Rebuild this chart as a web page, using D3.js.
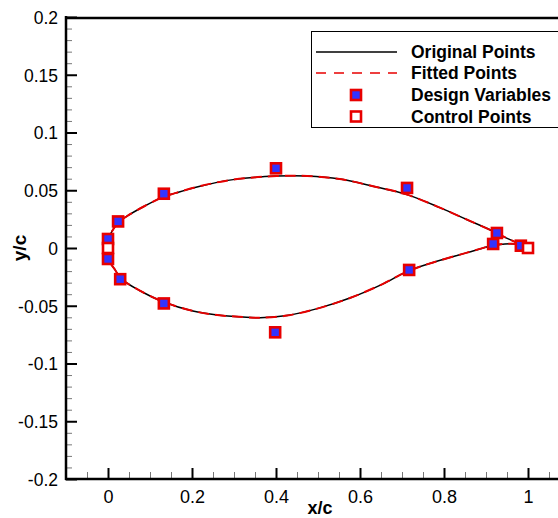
<!DOCTYPE html>
<html>
<head>
<meta charset="utf-8">
<script src="https://cdn.jsdelivr.net/npm/d3@7"></script>
<style>
  html, body { margin: 0; padding: 0; background: #fff; }
  svg { display: block; }
  text { font-family: "Liberation Sans", Arial, Helvetica, sans-serif; }
</style>
</head>
<body>
<svg id="chart" width="558" height="518"></svg>
<script>
// ---------------- data ----------------
const xTickValues = [0, 0.2, 0.4, 0.6, 0.8, 1];
const xTickLabels = ["0", "0.2", "0.4", "0.6", "0.8", "1"];
const yTickValues = [-0.2, -0.15, -0.1, -0.05, 0, 0.05, 0.1, 0.15, 0.2];
const yTickLabels = ["-0.2", "-0.15", "-0.1", "-0.05", "0", "0.05", "0.1", "0.15", "0.2"];

// Original points (upper and lower surface)
const originalUpperX = [0, 0.001, 0.006, 0.013, 0.024, 0.045, 0.083, 0.133, 0.160, 0.219, 0.298, 0.402, 0.474, 0.552, 0.631, 0.712, 0.790, 0.855, 0.917, 0.940, 0.965, 0.983];
const originalUpperY = [0, 0.007, 0.012, 0.0165, 0.022, 0.0275, 0.0355, 0.0445, 0.0475, 0.0535, 0.0592, 0.0623, 0.0623, 0.0597, 0.0535, 0.0462, 0.0350, 0.0245, 0.0145, 0.0100, 0.0060, 0.0030];
const originalLowerX = [0, 0.001, 0.006, 0.017, 0.031, 0.076, 0.131, 0.202, 0.260, 0.321, 0.362, 0.426, 0.498, 0.576, 0.655, 0.714, 0.774, 0.855, 0.914, 0.945, 0.975];
const originalLowerY = [0, -0.007, -0.013, -0.019, -0.0265, -0.037, -0.0465, -0.0545, -0.0580, -0.0598, -0.0604, -0.0585, -0.0525, -0.0433, -0.0310, -0.0200, -0.0125, -0.0040, 0.0020, 0.0035, 0.0035];

// Fitted points
const fittedUpperX = [0, 0.001, 0.006, 0.013, 0.024, 0.045, 0.083, 0.133, 0.160, 0.219, 0.298, 0.402, 0.474, 0.552, 0.631, 0.712, 0.790, 0.855, 0.917, 0.950, 0.983, 1.0];
const fittedUpperY = [0, 0.007, 0.012, 0.0165, 0.022, 0.0275, 0.0355, 0.0445, 0.0475, 0.0535, 0.0592, 0.0623, 0.0623, 0.0597, 0.0535, 0.0462, 0.0350, 0.0245, 0.0145, 0.0085, 0.0030, 0];
const fittedLowerX = [0, 0.001, 0.006, 0.017, 0.031, 0.076, 0.131, 0.202, 0.260, 0.321, 0.362, 0.426, 0.498, 0.576, 0.655, 0.714, 0.774, 0.855, 0.914, 0.945, 0.983, 1.0];
const fittedLowerY = [0, -0.007, -0.013, -0.019, -0.0265, -0.037, -0.0465, -0.0545, -0.0580, -0.0598, -0.0604, -0.0585, -0.0525, -0.0433, -0.0310, -0.0200, -0.0125, -0.0040, 0.0020, 0.0035, 0.0030, 0];

// Design variables
const designX = [0, 0.024, 0.133, 0.400, 0.712, 0.926, 0.983, 0, 0.029, 0.133, 0.398, 0.717, 0.917];
const designY = [0.0078, 0.023, 0.047, 0.069, 0.052, 0.013, 0.002, -0.0095, -0.027, -0.048, -0.073, -0.019, 0.0035];

// Control points
const controlX = [0, 1];
const controlY = [0, 0];

// Legend
const legendLabels = ["Original Points", "Fitted Points", "Design Variables", "Control Points"];

// ---------------- layout ----------------
const svg = d3.select("#chart");
const W = 558, H = 518;
const mLeft = 66, mRight = 570, mTop = 17, mBottom = 479;
const RED = "#e80000", BLUE = "#3333ff";

const x = d3.scaleLinear().domain([-0.1, 1.1]).range([mLeft, mRight]);
const y = d3.scaleLinear().domain([-0.2, 0.2]).range([mBottom, mTop]);

svg.append("rect").attr("width", W).attr("height", H).attr("fill", "#fff");

// minor ticks
const yMinor = d3.range(-20, 21).filter(i => i % 5 !== 0).map(i => i / 100);
const xMinor = d3.range(-2, 23).filter(i => i % 4 !== 0).map(i => i / 20);

const gyMinor = svg.append("g").attr("transform", `translate(${mLeft},0)`)
  .call(d3.axisLeft(y).tickValues(yMinor).tickSize(-6).tickFormat(""));
const gxMinor = svg.append("g").attr("transform", `translate(0,${mBottom})`)
  .call(d3.axisBottom(x).tickValues(xMinor).tickSize(-7).tickFormat(""));
[gyMinor, gxMinor].forEach(g => {
  g.select(".domain").remove();
  g.selectAll("line").attr("stroke", "#777").attr("stroke-width", 1);
});

// major axes
const gy = svg.append("g").attr("transform", `translate(${mLeft},0)`)
  .call(d3.axisLeft(y).tickValues(yTickValues).tickSize(-11).tickPadding(8)
        .tickFormat((d, i) => yTickLabels[i]));
const gx = svg.append("g").attr("transform", `translate(0,${mBottom})`)
  .call(d3.axisBottom(x).tickValues(xTickValues).tickSize(-11).tickPadding(8)
        .tickFormat((d, i) => xTickLabels[i]));
[gy, gx].forEach(g => {
  g.select(".domain").remove();
  g.selectAll("line").attr("stroke", "#000").attr("stroke-width", 2);
  g.selectAll("text").attr("fill", "#000").attr("font-family", "Liberation Sans, Arial, sans-serif");
});
gy.selectAll("text").attr("font-size", 17.5).attr("dy", "0.36em");
gx.selectAll("text").attr("font-size", 18).attr("dy", "0.9em");

// frame lines
svg.append("line").attr("x1", mLeft).attr("x2", mLeft).attr("y1", mTop - 1).attr("y2", mBottom + 1)
  .attr("stroke", "#000").attr("stroke-width", 2.5);
svg.append("line").attr("x1", mLeft - 1).attr("x2", W).attr("y1", mBottom).attr("y2", mBottom)
  .attr("stroke", "#000").attr("stroke-width", 2.5);
svg.append("line").attr("x1", mLeft - 1).attr("x2", W).attr("y1", mTop + 1).attr("y2", mTop + 1)
  .attr("stroke", "#000").attr("stroke-width", 2.5);

// axis titles
svg.append("text").attr("x", 320).attr("y", 514).attr("text-anchor", "middle")
  .attr("font-size", 18).attr("font-weight", "bold").text("x/c");
svg.append("text").attr("transform", "translate(26,248) rotate(-90)").attr("text-anchor", "middle")
  .attr("font-size", 19).attr("font-weight", "bold").text("y/c");

// curves
const plot = svg.append("g");
const zip = (xs, ys) => xs.map((v, i) => [v, ys[i]]);
const line = d3.line().x(d => x(d[0])).y(d => y(d[1])).curve(d3.curveCatmullRom.alpha(0.5));

[zip(originalUpperX, originalUpperY), zip(originalLowerX, originalLowerY)].forEach(pts => {
  plot.append("path").attr("d", line(pts)).attr("fill", "none")
    .attr("stroke", "#000").attr("stroke-width", 1.5);
});
[zip(fittedUpperX, fittedUpperY), zip(fittedLowerX, fittedLowerY)].forEach(pts => {
  plot.append("path").attr("d", line(pts)).attr("fill", "none")
    .attr("stroke", RED).attr("stroke-width", 2).attr("stroke-dasharray", "11,6");
});

// markers
const S = 10;
plot.selectAll("rect.dv").data(zip(designX, designY)).enter().append("rect")
  .attr("class", "dv")
  .attr("x", d => x(d[0]) - S / 2).attr("y", d => y(d[1]) - S / 2)
  .attr("width", S).attr("height", S)
  .attr("fill", BLUE).attr("stroke", RED).attr("stroke-width", 2.6);
plot.selectAll("rect.cp").data(zip(controlX, controlY)).enter().append("rect")
  .attr("class", "cp")
  .attr("x", d => x(d[0]) - S / 2).attr("y", d => y(d[1]) - S / 2)
  .attr("width", S).attr("height", S)
  .attr("fill", "#fff").attr("stroke", RED).attr("stroke-width", 2.6);

// legend
const lg = svg.append("g");
lg.append("rect").attr("x", 311.5).attr("y", 31.5).attr("width", 260).attr("height", 96)
  .attr("fill", "#fff").attr("stroke", "#000").attr("stroke-width", 1);
const rowsY = [52, 73, 95, 116.5];
lg.append("line").attr("x1", 316).attr("x2", 397).attr("y1", rowsY[0]).attr("y2", rowsY[0])
  .attr("stroke", "#000").attr("stroke-width", 1.4);
lg.append("line").attr("x1", 316).attr("x2", 397).attr("y1", rowsY[1]).attr("y2", rowsY[1])
  .attr("stroke", RED).attr("stroke-width", 1.6).attr("stroke-dasharray", "10,8");
lg.append("rect").attr("x", 356 - S / 2).attr("y", rowsY[2] - S / 2).attr("width", S).attr("height", S)
  .attr("fill", BLUE).attr("stroke", RED).attr("stroke-width", 2.6);
lg.append("rect").attr("x", 356 - S / 2).attr("y", rowsY[3] - S / 2).attr("width", S).attr("height", S)
  .attr("fill", "#fff").attr("stroke", RED).attr("stroke-width", 2.6);
legendLabels.forEach((t, i) => {
  lg.append("text").attr("x", 411).attr("y", rowsY[i] + 6)
    .attr("font-size", 17.5).attr("font-weight", "bold").attr("fill", "#000").text(t);
});
</script>
</body>
</html>
